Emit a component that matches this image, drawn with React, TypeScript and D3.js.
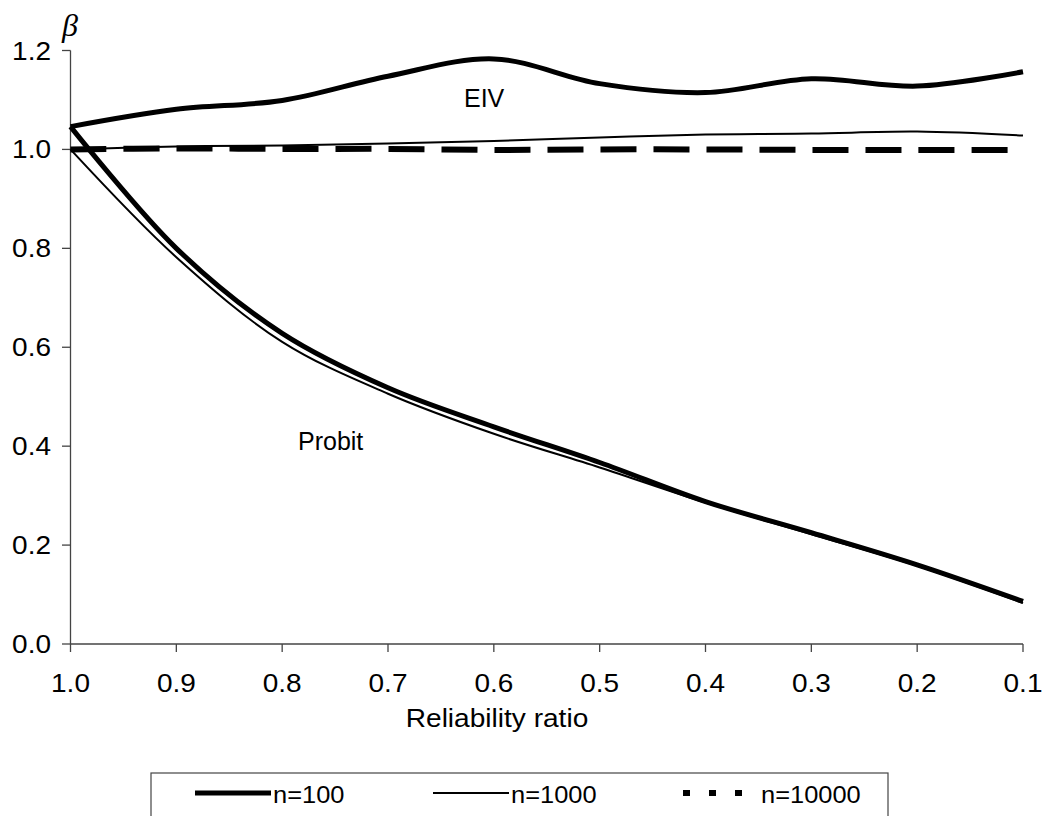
import React from 'react';
import * as d3 from 'd3';

// reliability ratio on the x axis (reversed, 1.0 -> 0.1)
const ratios = [1.0, 0.9, 0.8, 0.7, 0.6, 0.5, 0.4, 0.3, 0.2, 0.1];

// EIV estimates
const eivN100 = [1.046, 1.081, 1.099, 1.148, 1.183, 1.133, 1.115, 1.143, 1.128, 1.157];
const eivN1000 = [1.0, 1.006, 1.008, 1.012, 1.017, 1.024, 1.03, 1.032, 1.036, 1.028];
const eivN10000 = [1.0, 1.002, 1.001, 1.001, 0.999, 1.0, 1.0, 0.999, 0.999, 0.999];

// Probit estimates
const probitN100 = [1.046, 0.8, 0.628, 0.518, 0.439, 0.367, 0.288, 0.225, 0.16, 0.086];
const probitN1000 = [1.0, 0.782, 0.611, 0.506, 0.425, 0.357, 0.286, 0.222, 0.158, 0.083];

const yTicks = [0, 0.2, 0.4, 0.6, 0.8, 1.0, 1.2];
const xTicks = ratios;

const legendItems = [
  { label: 'n=100', width: 5, dash: null, x: 195 },
  { label: 'n=1000', width: 2, dash: null, x: 433 },
  { label: 'n=10000', width: 6, dash: '7,19', x: 683 },
];

const font = 'Liberation Sans, Arial, sans-serif';

// text a bit wider than the font draws it, as in the original figure
const Wide = ({ x, y, size, sx = 1.12, anchor = 'start', children }: any) => (
  <text
    transform={`translate(${x},${y}) scale(${sx},1)`}
    textAnchor={anchor}
    fontFamily={font}
    fontSize={size}
  >
    {children}
  </text>
);

const App = () => {
  const x = d3.scaleLinear().domain([1.0, 0.1]).range([70.5, 1023]);
  const y = d3.scaleLinear().domain([0, 1.2]).range([644, 50.5]);

  const line = d3
    .line<number>()
    .x((_, i) => x(ratios[i]))
    .y((d) => y(d))
    .curve(d3.curveCatmullRom.alpha(0.5));

  // series drawn in the plot
  const series = [
    { values: eivN10000, width: 6, dash: '36,17' },
    { values: eivN1000, width: 2, dash: null },
    { values: probitN1000, width: 2, dash: null },
    { values: eivN100, width: 5, dash: null },
    { values: probitN100, width: 5, dash: null },
  ];

  return (
    <svg
      width={1043}
      height={816}
      style={{ position: 'absolute', left: 0, top: 0, background: '#fff' }}
    >
      <rect x={0} y={0} width={1043} height={816} fill="#fff" />

      {/* axes */}
      <line x1={x(1.0)} x2={x(1.0)} y1={y(1.2)} y2={y(0)} stroke="#444" strokeWidth={1.3} />
      <line x1={x(1.0)} x2={x(0.1)} y1={y(0)} y2={y(0)} stroke="#444" strokeWidth={1.3} />

      {yTicks.map((t) => (
        <g key={'y' + t}>
          <line x1={x(1.0) - 8.5} x2={x(1.0)} y1={y(t)} y2={y(t)} stroke="#444" strokeWidth={1.3} />
          <Wide x={51} y={y(t) + 9} size={25} anchor="end">
            {t.toFixed(1)}
          </Wide>
        </g>
      ))}

      {xTicks.map((t) => (
        <g key={'x' + t}>
          <line x1={x(t)} x2={x(t)} y1={y(0)} y2={y(0) + 8} stroke="#444" strokeWidth={1.3} />
          <Wide x={x(t)} y={691.5} size={25} anchor="middle">
            {t.toFixed(1)}
          </Wide>
        </g>
      ))}

      <Wide x={497} y={727} size={26} sx={1.08} anchor="middle">
        Reliability ratio
      </Wide>

      <text
        x={62}
        y={36}
        fontFamily="Liberation Serif, Times New Roman, serif"
        fontStyle="italic"
        fontSize={32}
      >
        β
      </text>

      {/* curves */}
      {series.map((s, i) => (
        <path
          key={i}
          d={line(s.values) || ''}
          fill="none"
          stroke="#000"
          strokeWidth={s.width}
          strokeDasharray={s.dash || undefined}
        />
      ))}

      <text x={464} y={106.5} fontFamily={font} fontSize={25}>
        EIV
      </text>
      <text x={298} y={450} fontFamily={font} fontSize={25}>
        Probit
      </text>

      {/* legend */}
      <rect x={151} y={773} width={737} height={60} fill="#fff" stroke="#444" strokeWidth={1.2} />
      {legendItems.map((it) => (
        <g key={it.label}>
          <line
            x1={it.x}
            x2={it.x + 76}
            y1={793}
            y2={793}
            stroke="#000"
            strokeWidth={it.width}
            strokeDasharray={it.dash || undefined}
          />
          <Wide x={it.x + 78} y={803} size={24} sx={1.06}>
            {it.label}
          </Wide>
        </g>
      ))}
    </svg>
  );
};

export default App;
